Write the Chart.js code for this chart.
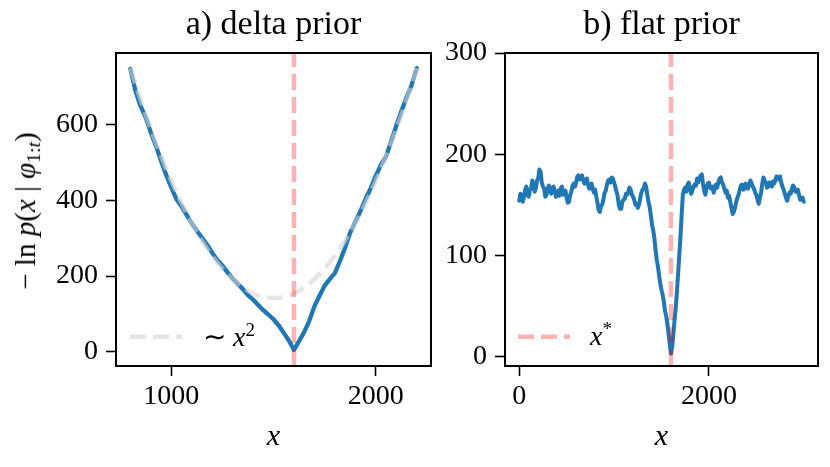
<!DOCTYPE html>
<html>
<head>
<meta charset="utf-8">
<script src="https://cdn.jsdelivr.net/npm/chart.js@4.4.1/dist/chart.umd.min.js"></script>
<style>
  html,body{margin:0;padding:0;background:#fff;}
  body{width:830px;height:467px;overflow:hidden;position:relative;font-family:'Liberation Serif',serif;color:#000;}
  .wrap{position:absolute;top:0;height:467px;}
  #wa{left:0;width:440px;}
  #wb{left:440px;width:390px;}
  .ylab{position:absolute;left:27px;top:211px;font-size:29px;white-space:nowrap;transform:translate(-50%,-50%) rotate(-90deg);}
  .ylab sub{font-size:0.68em;vertical-align:-0.25em;}
  .leg{position:absolute;font-size:28px;white-space:nowrap;}
  .leg svg{position:absolute;left:0;top:0;}
  .leg span.t{position:absolute;top:0;}
  sup{font-size:0.68em;vertical-align:0.55em;line-height:0;}
</style>
</head>
<body>
<div class="wrap" id="wa"><canvas id="ca"></canvas></div>
<div class="wrap" id="wb"><canvas id="cb"></canvas></div>
<div class="ylab">− ln <i>p</i>(<i>x</i> | <i>φ</i><sub>1:<i>t</i></sub>)</div>
<div class="leg" style="left:130px;top:320px;width:140px;height:34px;">
  <svg width="60" height="34"><line x1="0" y1="16.7" x2="52" y2="16.7" stroke="rgba(211,211,211,0.6)" stroke-width="4.5" stroke-dasharray="16,7"/></svg>
  <span class="t" style="left:73px;">∼ <i>x</i><sup>2</sup></span>
</div>
<div class="leg" style="left:518px;top:320px;width:120px;height:34px;">
  <svg width="60" height="34"><line x1="0" y1="16.7" x2="52" y2="16.7" stroke="rgba(255,0,0,0.3)" stroke-width="4.5" stroke-dasharray="16,7"/></svg>
  <span class="t" style="left:72px;"><i>x</i><sup>*</sup></span>
</div>
<script>
// ---------- data ----------
const xStar = 1600;

// panel a) delta prior
const xA = [800,825,850,875,900,925,950,975,1000,1025,1050,1075,1100,1125,1150,1175,1200,1225,1250,1275,1300,1325,1350,1375,1400,1425,1450,1475,1500,1525,1550,1575,1600,1625,1650,1675,1700,1725,1750,1775,1800,1825,1850,1875,1900,1925,1950,1975,2000,2025,2050,2075,2100,2125,2150,2175,2200];
const yA = [748,690,650,620,580,545,505,468,435,404,385,362,340,320,302,283,262,243,228,210,193,180,166,150,138,124,110,98,86,70,50,30,5,28,52,82,120,148,175,192,208,240,275,315,343,372,404,432,465,494,516,556,597,636,672,705,750];
// ~x^2 fit curve
const xP = [800,850,900,950,1000,1050,1100,1150,1200,1250,1300,1350,1400,1450,1500,1550,1600,1650,1700,1750,1800,1850,1900,1950,2000,2050,2100,2150,2200];
const yP = [750,666,588,517,452,393,340,294,254,220,192,170,154,145,142,145,154,170,192,220,254,294,340,393,452,517,588,666,750];
const xTicksA = [1000,2000];
const yTicksA = [0,200,400,600];
const xRangeA = [730,2270];
const yRangeA = [-37.6,790];

// panel b) flat prior
const xB = [
  0,12.5,25,37.5,50,62.5,75,87.5,100,112.5,125,137.5,150,162.5,175,187.5,200,212.5,225,237.5,
  250,262.5,275,287.5,300,312.5,325,337.5,350,362.5,375,387.5,400,412.5,425,437.5,450,462.5,475,487.5,
  500,512.5,525,537.5,550,562.5,575,587.5,600,612.5,625,637.5,650,662.5,675,687.5,700,712.5,725,737.5,
  750,762.5,775,787.5,800,812.5,825,837.5,850,862.5,875,887.5,900,912.5,925,937.5,950,962.5,975,987.5,
  1000,1012.5,1025,1037.5,1050,1062.5,1075,1087.5,1100,1112.5,1125,1137.5,1150,1162.5,1175,1187.5,1200,1212.5,1225,1237.5,
  1250,1262.5,1275,1287.5,1300,1312.5,1325,1337.5,1350,1362.5,1375,1387.5,1400,1412.5,1425,1437.5,1450,1462.5,1475,1487.5,
  1500,1512.5,1525,1537.5,1550,1562.5,1575,1587.5,1600,1612.5,1625,1637.5,1650,1662.5,1675,1687.5,1700,1712.5,1725,1737.5,
  1750,1762.5,1775,1787.5,1800,1812.5,1825,1837.5,1850,1862.5,1875,1887.5,1900,1912.5,1925,1937.5,1950,1962.5,1975,1987.5,
  2000,2012.5,2025,2037.5,2050,2062.5,2075,2087.5,2100,2112.5,2125,2137.5,2150,2162.5,2175,2187.5,2200,2212.5,2225,2237.5,
  2250,2262.5,2275,2287.5,2300,2312.5,2325,2337.5,2350,2362.5,2375,2387.5,2400,2412.5,2425,2437.5,2450,2462.5,2475,2487.5,
  2500,2512.5,2525,2537.5,2550,2562.5,2575,2587.5,2600,2612.5,2625,2637.5,2650,2662.5,2675,2687.5,2700,2712.5,2725,2737.5,
  2750,2762.5,2775,2787.5,2800,2812.5,2825,2837.5,2850,2862.5,2875,2887.5,2900,2912.5,2925,2937.5,2950,2962.5,2975,2987.5,
  3000];
const yB = [
  154,161,160,153,158,165,168,160,158,165,166,174,171,163,166,174,176,185,183,172,
  168,166,158,160,166,169,164,161,167,168,163,158,161,164,159,166,168,160,162,164,
  157,152,153,160,163,169,171,168,172,178,179,175,177,179,174,171,174,176,170,166,
  168,171,166,162,165,158,152,145,143,149,150,155,162,164,170,174,175,172,177,176,
  172,168,163,159,150,146,146,153,155,156,161,160,163,167,165,160,158,155,150,151,
  147,150,156,162,165,166,171,168,160,153,148,140,130,125,117,105,96,89,80,72,
  66,61,54,45,40,32,22,12,3,10,22,36,48,64,82,100,118,140,160,165,
  167,163,170,172,166,161,164,168,170,169,176,172,176,179,180,171,164,160,167,171,
  172,167,166,168,162,166,170,167,172,176,177,172,170,166,162,164,157,159,153,147,
  141,143,147,153,157,160,165,169,170,165,166,171,168,166,170,174,171,168,166,162,
  160,155,151,157,162,171,177,174,172,167,168,172,170,168,173,171,174,178,177,175,
  178,172,168,165,161,157,154,159,162,161,166,169,167,163,163,165,160,155,156,157,
  153];
const xTicksB = [0,2000];
const yTicksB = [0,100,200,300];
const xRangeB = [-150,3150];
const yRangeB = [-9.25,300];

// ---------- styling ----------
const FONT = "'Liberation Serif', serif";
const BLUE = '#1f77b4';
const GRAY = 'rgba(211,211,211,0.6)';
const RED = 'rgba(255,0,0,0.3)';

const frame = {
  id: 'frame',
  afterDraw(chart) {
    const {ctx, chartArea: a} = chart;
    ctx.save();
    ctx.strokeStyle = '#000';
    ctx.lineWidth = 2;
    ctx.strokeRect(a.left, a.top, a.right - a.left, a.bottom - a.top);
    ctx.restore();
  }
};

function pts(xs, ys) { return xs.map((x, i) => ({x, y: ys[i]})); }

function makeChart(id, cfg) {
  const datasets = [
    {data: [{x: xStar, y: cfg.yRange[0]}, {x: xStar, y: cfg.yRange[1]}], borderColor: RED, borderWidth: 4.5, borderDash: [16, 7], order: 0},
  ];
  if (cfg.fit) datasets.push({data: pts(cfg.fit[0], cfg.fit[1]), borderColor: GRAY, borderWidth: 4.5, borderDash: [16, 7], order: 1, cubicInterpolationMode: 'monotone', tension: 0.4});
  datasets.push({data: pts(cfg.xs, cfg.ys), borderColor: BLUE, borderWidth: cfg.lw, order: 2, borderJoinStyle: 'round', borderCapStyle: 'round'});
  datasets.forEach(d => { d.pointRadius = 0; d.fill = false; if (d.tension === undefined) d.tension = 0; });

  const tickFont = {family: FONT, size: 28};
  return new Chart(document.getElementById(id), {
    type: 'line',
    data: {datasets},
    plugins: [frame],
    options: {
      responsive: true,
      maintainAspectRatio: false,
      animation: false,
      events: [],
      layout: {padding: {left: 0, right: cfg.padRight, top: 0, bottom: 0}},
      plugins: {
        legend: {display: false},
        tooltip: {enabled: false},
        title: {display: true, text: cfg.title, fullSize: false, color: '#000',
                font: {family: FONT, size: 34, weight: 'normal'}, padding: {top: 5, bottom: 7.2}}
      },
      scales: {
        x: {
          type: 'linear', min: cfg.xRange[0], max: cfg.xRange[1],
          afterBuildTicks: s => { s.ticks = cfg.xTicks.map(v => ({value: v})); },
          afterFit: s => { s.height = 101; },
          ticks: {font: tickFont, color: '#000', padding: 4, maxRotation: 0, callback: v => String(v)},
          grid: {drawOnChartArea: false, drawTicks: true, tickLength: 10, tickWidth: 1.6, tickColor: '#000'},
          border: {display: false},
          title: {display: true, text: 'x', color: '#000', font: {family: FONT, size: 30, style: 'italic'}, padding: {top: 0, bottom: 12}}
        },
        y: {
          type: 'linear', min: cfg.yRange[0], max: cfg.yRange[1],
          afterBuildTicks: s => { s.ticks = cfg.yTicks.map(v => ({value: v})); },
          afterFit: s => { s.width = cfg.yWidth; },
          ticks: {font: tickFont, color: '#000', padding: 8, callback: v => String(v)},
          grid: {drawOnChartArea: false, drawTicks: true, tickLength: 10, tickWidth: 1.6, tickColor: '#000'},
          border: {display: false}
        }
      }
    }
  });
}

makeChart('ca', {title: 'a) delta prior', xs: xA, ys: yA, fit: [xP, yP], xTicks: xTicksA, yTicks: yTicksA,
                 xRange: xRangeA, yRange: yRangeA, yWidth: 116, padRight: 9, lw: 4.3});
makeChart('cb', {title: 'b) flat prior', xs: xB, ys: yB, xTicks: xTicksB, yTicks: yTicksB,
                 xRange: xRangeB, yRange: yRangeB, yWidth: 65, padRight: 12, lw: 4});
</script>
</body>
</html>
